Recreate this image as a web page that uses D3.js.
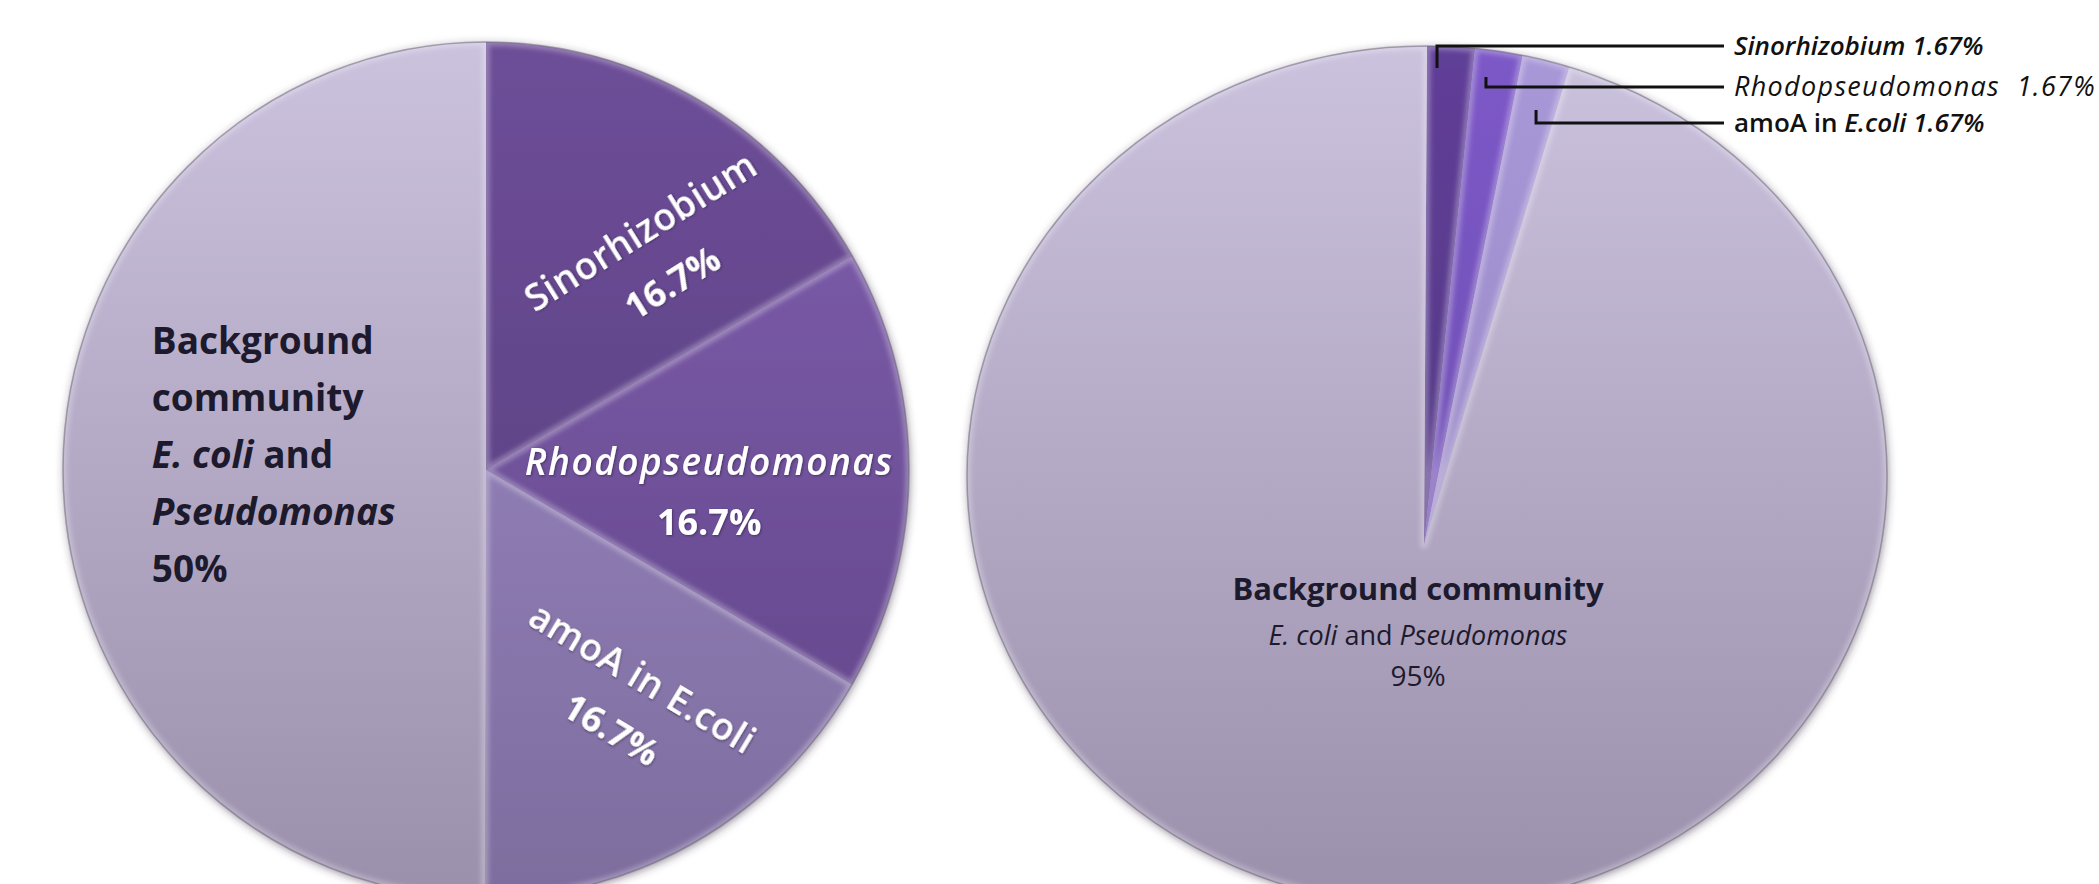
<!DOCTYPE html>
<html>
<head>
<meta charset="utf-8">
<script src="https://cdn.jsdelivr.net/npm/d3@7"></script>
<style>
  html, body { margin: 0; padding: 0; background: #fff; }
  svg { display: block; font-family: "Open Sans", "DejaVu Sans", sans-serif; }
</style>
</head>
<body>
<div id="svganchor"></div>
<script>
// slices, clockwise from 12 o'clock
const names = ["Sinorhizobium", "Rhodopseudomonas", "amoA in E.coli", "Background community"];
const leftValues = [16.7, 16.7, 16.7, 50];
const rightValues = [1.67, 1.67, 1.67, 95];

const width = 2099;
const height = 884;

// ellipse of each pie + point where the slices meet
const leftGeo = { cx: 486, cy: 470, rx: 423, ry: 428, hx: 486, hy: 470 };
const rightGeo = { cx: 1427, cy: 476, rx: 460, ry: 430, hx: 1424, hy: 545 };

const leftColors = [["#6d4e98", "#543b7a"], ["#8160b0", "#5e4385"], ["#9f8ac8", "#7d6d9e"], ["#cbc2de", "#9b90ac"]];
const rightColors = [["#603f98", "#4a3177"], ["#7d59c8", "#6446a4"], ["#a998d8", "#9080ba"], ["#cbc2de", "#9b90ac"]];

const svg = d3.select("#svganchor")
  .append("svg")
  .attr("width", width)
  .attr("height", height);

const defs = svg.append("defs");

const shadow = defs.append("filter").attr("id", "pieShadow")
  .attr("x", "-10%").attr("y", "-10%").attr("width", "120%").attr("height", "120%");
shadow.append("feDropShadow")
  .attr("dx", 1).attr("dy", 2).attr("stdDeviation", 4)
  .attr("flood-color", "#3a3348").attr("flood-opacity", 0.55);

const textShadow = defs.append("filter").attr("id", "textShadow");
textShadow.append("feDropShadow")
  .attr("dx", 1).attr("dy", 1).attr("stdDeviation", 1)
  .attr("flood-color", "#2a1d40").attr("flood-opacity", 0.6);

const soft = defs.append("filter").attr("id", "soft");
soft.append("feGaussianBlur").attr("stdDeviation", 2.5);

const pie = d3.pie().sort(null).value(d => d.value);

function pointAt(g, a, k) {
  return [g.cx + g.rx * k * Math.sin(a), g.cy - g.ry * k * Math.cos(a)];
}

// slice from the hub out to the ellipse rim
function slicePath(d, g) {
  const [x0, y0] = pointAt(g, d.startAngle, 1);
  const [x1, y1] = pointAt(g, d.endAngle, 1);
  const large = d.endAngle - d.startAngle > Math.PI ? 1 : 0;
  return `M${g.hx},${g.hy}L${x0},${y0}A${g.rx},${g.ry} 0 ${large} 1 ${x1},${y1}Z`;
}

function drawPie(id, values, g, colors) {
  const data = pie(values.map((v, i) => ({ name: names[i], value: v })));

  colors.forEach((c, i) => {
    const grad = defs.append("linearGradient")
      .attr("id", id + "-grad-" + i)
      .attr("gradientUnits", "userSpaceOnUse")
      .attr("x1", 0).attr("y1", g.cy - g.ry)
      .attr("x2", 0).attr("y2", g.cy + g.ry);
    grad.append("stop").attr("offset", "0%").attr("stop-color", c[0]);
    grad.append("stop").attr("offset", "100%").attr("stop-color", c[1]);
  });

  data.forEach((d, i) => {
    defs.append("clipPath").attr("id", `${id}-clip-${i}`)
      .append("path").attr("d", slicePath(d, g));
  });

  const gr = svg.append("g").attr("filter", "url(#pieShadow)");
  gr.selectAll("path.slice")
    .data(data)
    .enter()
    .append("path")
      .attr("class", "slice")
      .attr("d", d => slicePath(d, g))
      .attr("fill", (d, i) => `url(#${id}-grad-${i})`);

  // soft bevel: light inner rim on every slice
  svg.append("g").selectAll("g")
    .data(data)
    .enter()
    .append("g")
      .attr("clip-path", (d, i) => `url(#${id}-clip-${i})`)
    .append("path")
      .attr("d", d => slicePath(d, g))
      .attr("fill", "none")
      .attr("stroke", "#ffffff")
      .attr("stroke-opacity", 0.3)
      .attr("stroke-width", 7)
      .attr("stroke-linejoin", "round")
      .attr("filter", "url(#soft)");

  svg.append("ellipse")
    .attr("cx", g.cx).attr("cy", g.cy)
    .attr("rx", g.rx).attr("ry", g.ry)
    .attr("fill", "none")
    .attr("stroke", "#6d6479")
    .attr("stroke-opacity", 0.55)
    .attr("stroke-width", 1.5);

  return data;
}

// writes one line made of [text, italic] parts
function richLine(sel, parts) {
  parts.forEach(p => {
    sel.append("tspan")
      .attr("font-style", p[1] ? "italic" : "normal")
      .text(p[0]);
  });
}

/* ---------- left pie ---------- */
const leftData = drawPie("left", leftValues, leftGeo, leftColors);

// label placement for the three small slices: radius fraction, angle shift (deg), rotation (deg)
const leftLabelPos = [
  { k: 0.64, shift: 9, rot: -32 },
  { k: 0.53, shift: 5.5, rot: 0 },
  { k: 0.64, shift: -1.5, rot: 31 }
];

leftData.slice(0, 3).forEach((d, i) => {
  const p = leftLabelPos[i];
  const mid = (d.startAngle + d.endAngle) / 2 + p.shift * Math.PI / 180;
  const [x, y] = pointAt(leftGeo, mid, p.k);
  const lg = svg.append("g")
    .attr("transform", `translate(${x},${y}) rotate(${p.rot})`)
    .attr("filter", "url(#textShadow)")
    .attr("fill", "#ffffff")
    .attr("text-anchor", "middle");
  lg.append("text")
    .attr("y", -30)
    .attr("dy", "0.35em")
    .attr("font-size", 37)
    .attr("font-weight", 600)
    .attr("font-style", i === 1 ? "italic" : "normal")
    .attr("letter-spacing", i === 1 ? 1.5 : 0.5)
    .text(d.data.name);
  lg.append("text")
    .attr("y", 30)
    .attr("dy", "0.35em")
    .attr("font-size", 36)
    .attr("font-weight", 700)
    .text(d.data.value + "%");
});

// background community label, left aligned in the big half
const bgLeft = leftData[3];
const bgLines = [
  [["Background", false]],
  [["community", false]],
  [["E. coli", true], [" and", false]],
  [["Pseudomonas", true]],
  [[bgLeft.data.value + "%", false]]
];
const bgX = leftGeo.cx - 0.79 * leftGeo.rx;
const bgTop = leftGeo.cy - 116;
bgLines.forEach((parts, i) => {
  const t = svg.append("text")
    .attr("x", bgX)
    .attr("y", bgTop + i * 57)
    .attr("font-size", 37)
    .attr("font-weight", 700)
    .attr("fill", "#1c1a2c");
  richLine(t, parts);
});

/* ---------- right pie ---------- */
const rightData = drawPie("right", rightValues, rightGeo, rightColors);

const bgRight = rightData[3];
const rLines = [
  { parts: [["Background community", false]], size: 31, weight: 700, dy: 0 },
  { parts: [["E. coli", true], [" and ", false], ["Pseudomonas", true]], size: 27, weight: 500, dy: 45 },
  { parts: [[bgRight.data.value + "%", false]], size: 28, weight: 500, dy: 86 }
];
rLines.forEach(l => {
  const t = svg.append("text")
    .attr("x", rightGeo.cx - 9)
    .attr("y", 600 + l.dy)
    .attr("text-anchor", "middle")
    .attr("font-size", l.size)
    .attr("font-weight", l.weight)
    .attr("fill", "#1c1a2c");
  richLine(t, l.parts);
});

// leader lines for the thin slices
const legendX = 1724;
const legendY = [46, 87, 123];
const leaderFrac = [0.22, 0.3, 0.55];   // where in each slice the leader starts
const leaderTick = [22, -10, -13];      // vertical tick, + goes down into slice
const legendParts = [
  d => ({ parts: [[d.data.name + " " + d.data.value + "%", true]], size: 26, weight: 600, ls: 0 }),
  d => ({ parts: [[d.data.name + "\u00a0\u00a0" + d.data.value + "%", true]], size: 27, weight: 500, ls: 1.3 }),
  d => ({ parts: [["amoA in ", false], ["E.coli " + d.data.value + "%", true]], size: 26, weight: 600, ls: 0 })
];

rightData.slice(0, 3).forEach((d, i) => {
  const a = d.startAngle + leaderFrac[i] * (d.endAngle - d.startAngle);
  const [ox, oy] = pointAt(rightGeo, a, 1);
  const yTick = legendY[i] + leaderTick[i];
  // point on the ray hub -> rim at the tick height
  const t = (rightGeo.hy - yTick) / (rightGeo.hy - oy);
  const xTick = rightGeo.hx + t * (ox - rightGeo.hx);
  svg.append("path")
    .attr("d", `M${xTick},${yTick}V${legendY[i]}H${legendX}`)
    .attr("fill", "none")
    .attr("stroke", "#111")
    .attr("stroke-width", 3);
  const spec = legendParts[i](d);
  const tx = svg.append("text")
    .attr("x", legendX + 10)
    .attr("y", legendY[i])
    .attr("dy", "0.35em")
    .attr("font-size", spec.size)
    .attr("font-weight", spec.weight)
    .attr("letter-spacing", spec.ls)
    .attr("fill", "#111");
  richLine(tx, spec.parts);
});
</script>
</body>
</html>
